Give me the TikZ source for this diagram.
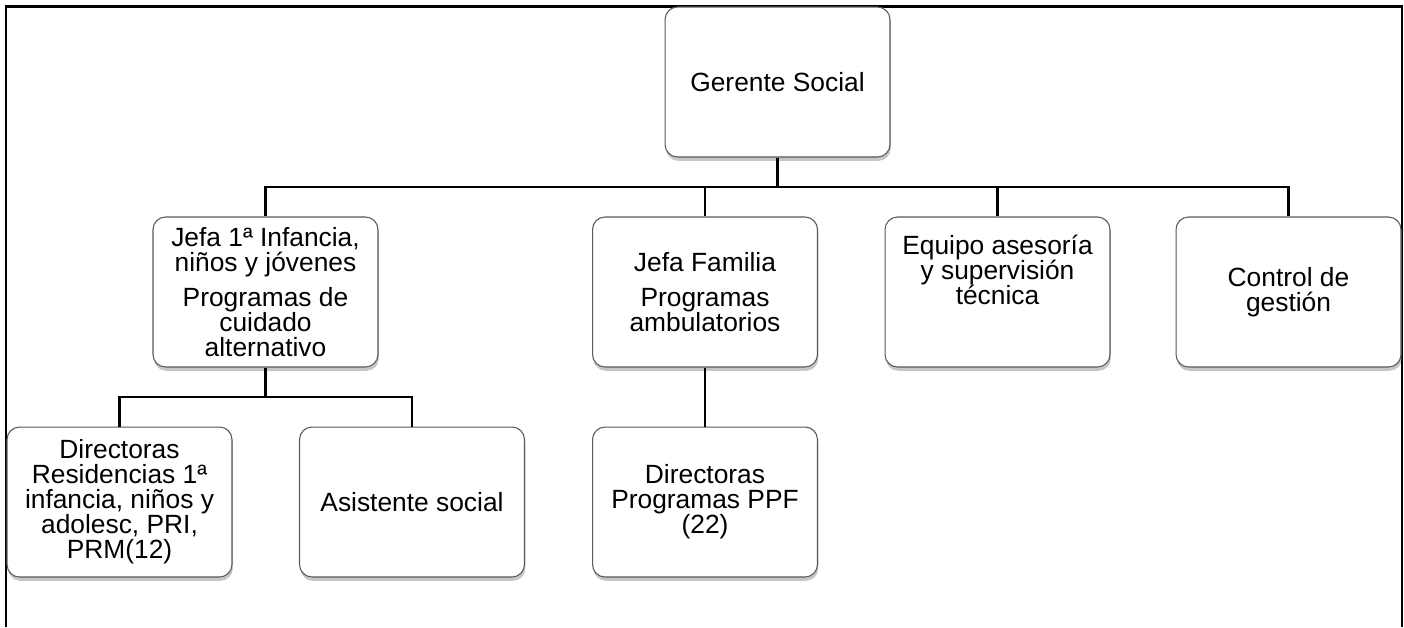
\documentclass[tikz,border=0pt]{standalone}
\usepackage{fontspec}
\setmainfont{Liberation Sans}
\usetikzlibrary{positioning}
\usetikzlibrary{shadows}

\begin{document}
\begin{tikzpicture}[x=0.02cm,y=-0.02cm,node distance=4.2cm,
	font=\fontsize{15}{14.2}\selectfont]
	\tikzstyle{puesto}=[rectangle,draw=gray!70!black,line width=0.6pt,rounded corners=0.25cm,fill=white,
		minimum width=4.5cm,minimum height=3cm,align=center,inner sep=2pt,
		drop shadow={shadow xshift=0.5pt,shadow yshift=-2.2pt,opacity=0.45}]
	\tikzstyle{linea}=[line width=1.4pt]

	\useasboundingbox (0,0) rectangle (1404,627);
	\draw[line width=1.5pt] (6,627) -- (6,6.5) -- (1402,6.5) -- (1402,627);

	\node[puesto] (gerente) at (777.5,82)   {Gerente Social};
	\node[puesto] (jefa1)   at (265.5,292)  {Jefa 1ª Infancia,\\niños y jóvenes\\[6pt]Programas de\\cuidado\\alternativo};
	\node[puesto] (jefafam) at (705,292)    {Jefa Familia\\[6pt]Programas\\ambulatorios};
	\node[puesto] (equipo)  at (997.5,292)  {Equipo asesoría\\y supervisión\\técnica\\[11pt]~};
	\node[puesto] (control) at (1288.5,292) {Control de\\gestión};
	\node[puesto] (dirres)  at (119.5,502)  {Directoras\\Residencias 1ª\\infancia, niños y\\adolesc, PRI,\\PRM(12)};
	\node[puesto] (asist)   at (412,502)    {Asistente social};
	\node[puesto] (dirppf)  at (705,502)    {Directoras\\Programas PPF\\(22)};

	\coordinate (bus)    at (777.5,187);
	\coordinate (subbus) at (265.5,397);

	\draw[linea] (gerente) -- (bus);
	\draw[linea] (jefa1.north) |- (bus) -| (control.north);
	\draw[linea] (jefafam.north) -- (jefafam.north |- bus);
	\draw[linea] (equipo.north) -- (equipo.north |- bus);
	\draw[linea] (jefa1) -- (subbus);
	\draw[linea] (dirres.north) |- (subbus) -| (asist.north);
	\draw[linea] (jefafam) -- (dirppf);
\end{tikzpicture}
\end{document}
